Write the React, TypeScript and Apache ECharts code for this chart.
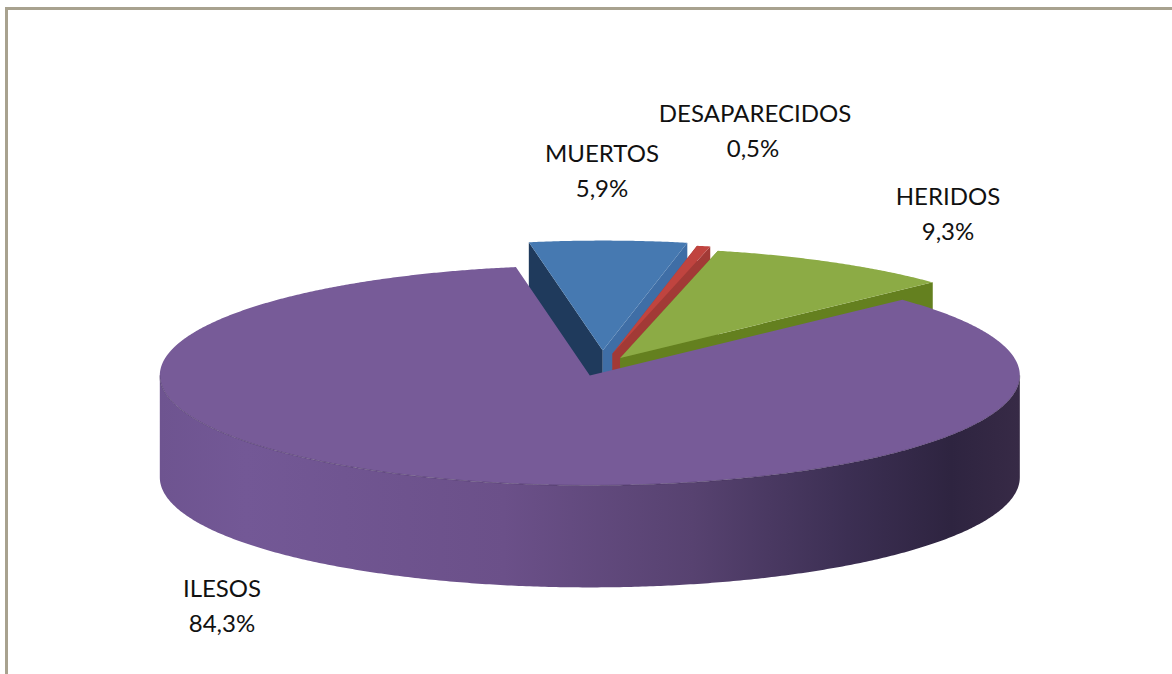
import React, { useEffect, useRef } from "react";
import * as echarts from "echarts";

const categories = ["MUERTOS", "DESAPARECIDOS", "HERIDOS", "ILESOS"];
const percentages = [5.9, 0.5, 9.3, 84.3];
const percentLabels = ["5,9%", "0,5%", "9,3%", "84,3%"];

const explode = [0.14, 0.115, 0.085, 0.09];
const topColors = ["#4679b1", "#c0443f", "#8cab45", "#775b98"];
const leftWall = ["#1f3a5c", "#a53a36", "#6a8526", "#5a4573"];
const rightWall = ["#3f6ea6", "#a23a36", "#64801f", "#5a4573"];
const labelAnchors = [
  { name: [602, 152], pct: [602, 187] },
  { name: [755, 112], pct: [753, 147] },
  { name: [948, 195], pct: [948, 230] },
  { name: [222, 587], pct: [222, 622] },
];

const CX = 602, CY = 366, RX = 430, RY = 110, DEPTH = 102;
const FIRST_ANGLE = -9.9;
const rad = (d: number) => (d * Math.PI) / 180;

function renderSlice(params: any, api: any) {
  const i = params.dataIndex;
  const start = api.value(0);
  const end = api.value(1);
  const mid = (start + end) / 2;
  const e = explode[i];
  const cx = CX + e * RX * Math.sin(rad(mid));
  const cy = CY - e * RY * Math.cos(rad(mid));
  const at = (a: number, dz = 0) => [cx + RX * Math.sin(rad(a)), cy - RY * Math.cos(rad(a)) + dz];
  const steps = Math.max(4, Math.round((end - start) * 3));
  const arc: number[][] = [];
  for (let k = 0; k <= steps; k++) arc.push(at(start + ((end - start) * k) / steps));
  const children: any[] = [];
  const apex = [cx, cy];
  const apexDown = [cx, cy + DEPTH];
  const poly = (points: number[][], fill: any) => ({
    type: "polygon",
    shape: { points },
    style: { fill, stroke: null },
  });
  if (i === 3) {
    // outer wall: only the part that faces the viewer
    const front: number[][] = [];
    const back: number[][] = [];
    for (let a = 90; a <= 270; a += 0.5) {
      front.push(at(a));
      back.unshift(at(a, DEPTH));
    }
    children.push(
      poly(front.concat(back), {
        type: "linear", x: 0, y: 0, x2: 1, y2: 0,
        colorStops: [
          { offset: 0, color: "#6e5490" },
          { offset: 0.1, color: "#735896" },
          { offset: 0.4, color: "#6b5089" },
          { offset: 0.62, color: "#574270" },
          { offset: 0.8, color: "#3c2f53" },
          { offset: 0.92, color: "#2e2440" },
          { offset: 1, color: "#372a46" },
        ],
      })
    );
  } else {
    children.push(poly([at(start), apex, apexDown, at(start, DEPTH)], leftWall[i]));
    children.push(poly([at(end), apex, apexDown, at(end, DEPTH)], rightWall[i]));
  }
  children.push(poly([apex].concat(arc), topColors[i]));
  if (i === 3) {
    const rim: number[][] = [];
    for (let a = 90; a <= 270; a += 0.5) rim.push(at(a));
    children.push({
      type: "polyline",
      shape: { points: rim },
      style: { fill: null, stroke: "rgba(50,35,70,0.35)", lineWidth: 1 },
    });
  }
  return { type: "group", children };
}

export default function App() {
  const ref = useRef<HTMLDivElement>(null);
  useEffect(() => {
    const chart = echarts.init(ref.current!, null, { renderer: "svg" });
    const total = percentages.reduce((a, b) => a + b, 0);
    let acc = FIRST_ANGLE;
    const data = percentages.map((p, i) => {
      const s = acc;
      acc += (p / total) * 360;
      return { name: categories[i], value: [s, acc, p] };
    });
    const textStyle = { fill: "#111", font: '24px Lato, sans-serif', textAlign: "center", textVerticalAlign: "middle" };
    const labels: any[] = [];
    categories.forEach((c, i) => {
      labels.push({ type: "text", x: labelAnchors[i].name[0], y: labelAnchors[i].name[1], style: { ...textStyle, text: c } });
      labels.push({ type: "text", x: labelAnchors[i].pct[0], y: labelAnchors[i].pct[1], style: { ...textStyle, text: percentLabels[i] } });
    });
    chart.setOption({
      animation: false,
      backgroundColor: "#fff",
      graphic: [
        { type: "rect", shape: { x: 5, y: 7, width: 1167, height: 3 }, style: { fill: "#a8a28f" } },
        { type: "rect", shape: { x: 5, y: 7, width: 3, height: 667 }, style: { fill: "#a8a28f" } },
        ...labels,
      ],
      series: [
        {
          type: "custom",
          coordinateSystem: "none",
          renderItem: renderSlice,
          data,
          clip: false,
          silent: true,
        },
      ],
    });
    return () => chart.dispose();
  }, []);
  return <div ref={ref} style={{ position: "fixed", left: 0, top: 0, width: 1172, height: 674 }} />;
}
